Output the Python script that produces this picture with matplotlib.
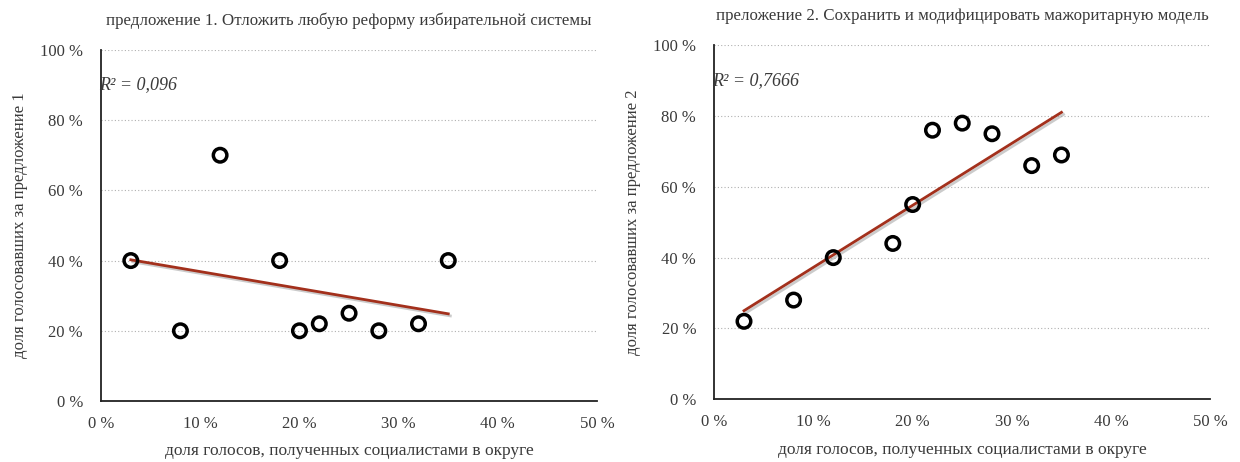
import matplotlib.pyplot as plt, numpy as np
import matplotlib.patheffects as pe

plt.rcParams['font.family'] = ['Liberation Serif', 'DejaVu Serif']

# доля голосов социалистов в округе, %
soc_share = [3, 8, 12, 18, 20, 22, 25, 28, 32, 35]
# доля голосовавших за предложение, %
prop1 = [40, 20, 70, 40, 20, 22, 25, 20, 22, 40]
prop2 = [22, 28, 40, 44, 55, 76, 78, 75, 66, 69]

titles = ["предложение 1. Отложить любую реформу избирательной системы",
          "преложение 2. Сохранить и модифицировать мажоритарную модель"]
ylabels = ["доля голосовавших за предложение 1",
           "доля голосовавших за предложение 2"]
r2_labels = ["R² = 0,096", "R² = 0,7666"]
xlabel = "доля голосов, полученных социалистами в округе"

fig = plt.figure(figsize=(12.4, 4.62), dpi=100)
boxes = [[0.0815, 0.132, 0.400, 0.760], [0.576, 0.136, 0.400, 0.766]]
tcol = "#3a3a3a"

for i, ys in enumerate([prop1, prop2]):
    ax = fig.add_axes(boxes[i])
    x = np.array(soc_share)
    y = np.array(ys)
    k, b = np.polyfit(x, y, 1)
    xx = np.array([x.min(), x.max()])
    ax.plot(xx, k * xx + b, color="#a3301c", lw=2, zorder=2,
            path_effects=[pe.SimpleLineShadow(offset=(1.5, -1.5), shadow_color="#999999", alpha=0.5), pe.Normal()])
    ax.scatter(x, y, s=95, facecolors="none", edgecolors="black", linewidths=2.5, zorder=3)
    ax.set_xlim(0, 50)
    ax.set_ylim(0, 100)
    ax.set_xticks(range(0, 51, 10))
    ax.set_yticks(range(0, 101, 20))
    ax.set_xticklabels([f"{v} %" for v in range(0, 51, 10)])
    ax.set_yticklabels([f"{v} %" for v in range(0, 101, 20)])
    ax.tick_params(axis='y', length=0, labelsize=12, colors=tcol, pad=13)
    ax.tick_params(axis='x', length=0, labelsize=12, colors=tcol, pad=11)
    for v in range(20, 101, 20):
        ax.axhline(v, color="#b0b0b0", lw=0.8, ls=(0, (1, 2)), zorder=1)
    for s in ["top", "right"]:
        ax.spines[s].set_visible(False)
    ax.spines["left"].set_color("#222222")
    ax.spines["bottom"].set_color("#222222")
    ax.spines["left"].set_linewidth(1.3)
    ax.spines["bottom"].set_linewidth(1.3)
    ax.set_title(titles[i], fontsize=12.2, color=tcol, pad=18)
    ax.set_ylabel(ylabels[i], fontsize=12, color=tcol, labelpad=9)
    ax.set_xlabel(xlabel, fontsize=12.5, color=tcol, labelpad=8)
    ax.text(-0.2, 90, r2_labels[i], fontsize=13, style="italic", color=tcol, va="center", ha="left")

fig.savefig("out.png", dpi=100)
